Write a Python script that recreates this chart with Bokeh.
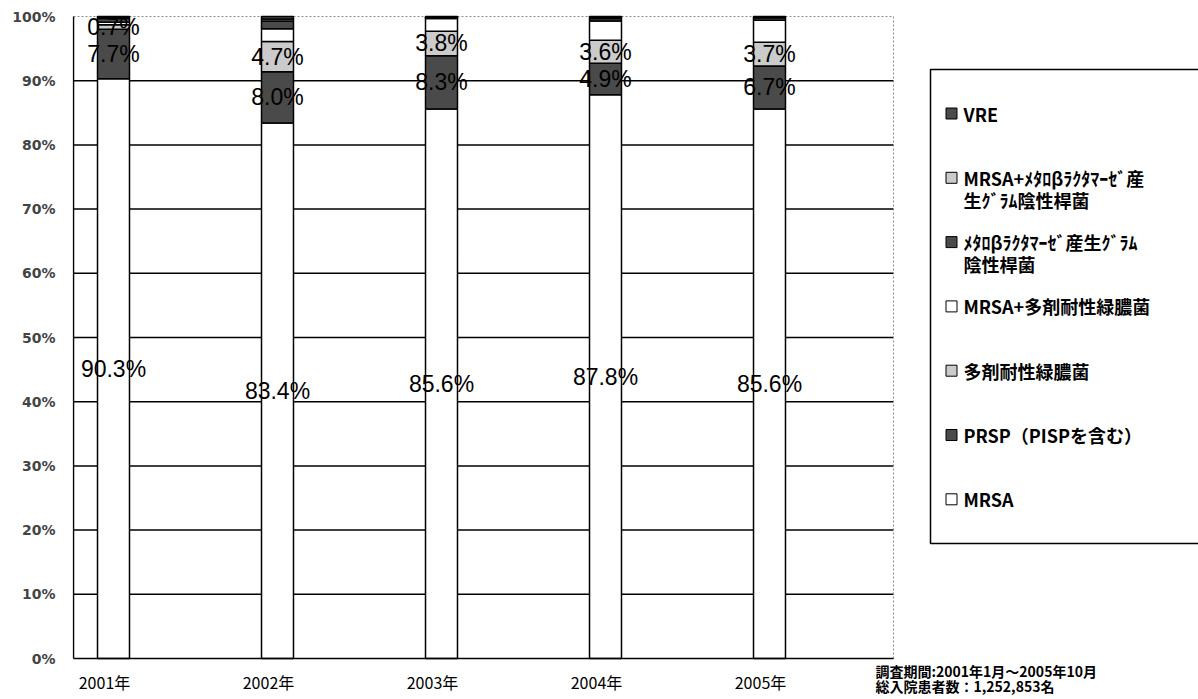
from bokeh.plotting import figure
from bokeh.models import ColumnDataSource, Range1d, FixedTicker
from bokeh.core.properties import value
from bokeh.embed import file_html
from bokeh.resources import INLINE

# ---- data ----
years = ["2001年", "2002年", "2003年", "2004年", "2005年"]
mrsa      = [90.3, 83.4, 85.6, 87.8, 85.6]
prsp      = [7.7, 8.0, 8.3, 4.9, 6.7]
mdrp      = [0.7, 4.7, 3.8, 3.6, 3.7]
mrsa_mdrp = [0.4, 2.0, 2.0, 3.0, 3.4]
mbl       = [0.6, 1.2, 0.2, 0.4, 0.4]
mrsa_mbl  = [0.1, 0.3, 0.0, 0.1, 0.1]
vre       = [0.2, 0.4, 0.1, 0.2, 0.1]

series_names = ["MRSA", "PRSP（PISPを含む）", "多剤耐性緑膿菌", "MRSA+多剤耐性緑膿菌",
                "ﾒﾀﾛβﾗｸﾀﾏｰｾﾞ産生ｸﾞﾗﾑ\n陰性桿菌", "MRSA+ﾒﾀﾛβﾗｸﾀﾏｰｾﾞ産\n生ｸﾞﾗﾑ陰性桿菌", "VRE"]
y_ticks = [0, 10, 20, 30, 40, 50, 60, 70, 80, 90, 100]
note_lines = ["調査期間:2001年1月～2005年10月", "総入院患者数：1,252,853名"]

series = [mrsa, prsp, mdrp, mrsa_mdrp, mbl, mrsa_mbl, vre]
DARK, LIGHT, WHITE = "#4a4a4a", "#cbcbcb", "#ffffff"
colors = [WHITE, DARK, LIGHT, WHITE, DARK, LIGHT, DARK]
keys = ["s%d" % i for i in range(len(series))]

# ---- layout geometry (page pixels) ----
W, H = 1198, 699
X0, DX = 113.0, 164.0      # pixel of first category centre, pixels per category
Y0, DY = 658.0, 6.42       # pixel of 0 %, pixels per percent
def dx(px): return (px - X0) / DX
def dy(py): return (Y0 - py) / DY
PL, PR = 73, 893           # plot-area left/right pixels

xs = list(range(len(years)))
data = {"x": xs}
for k, s in zip(keys, series):
    data[k] = s
src = ColumnDataSource(data)

p = figure(width=W, height=H, output_backend="svg", toolbar_location=None,
           x_range=Range1d(dx(72), dx(W)), y_range=Range1d(dy(H), dy(0)),
           x_axis_location=None, y_axis_location="left",
           min_border_left=72, min_border_right=0, min_border_top=0, min_border_bottom=0)
p.background_fill_color = "white"
p.border_fill_color = "white"
p.outline_line_color = None
p.xgrid.visible = False
p.ygrid.visible = False

xL, xR = dx(PL), dx(PR)
# horizontal gridlines (10 % .. 90 %)
g = y_ticks[1:-1]
p.segment(x0=[xL] * len(g), x1=[xR] * len(g), y0=g, y1=g, line_color="black", line_width=1.5)
# dotted top and right edges of the plot area
p.segment(x0=[xL, xR], x1=[xR, xR], y0=[y_ticks[-1], y_ticks[0]], y1=[y_ticks[-1], y_ticks[-1]],
          line_color="#8a8a8a", line_dash="2 2", line_width=1)

# stacked bars
p.vbar_stack(keys, x="x", width=0.195, source=src, fill_color=colors,
             line_color="black", line_width=1.5)

# axis lines
p.segment(x0=[xL, xL], x1=[xL, xR], y0=[y_ticks[0], y_ticks[0]], y1=[y_ticks[-1], y_ticks[0]],
          line_color="black", line_width=1.5)

# data labels (MRSA, PRSP, 多剤耐性緑膿菌)
lx, ly, lt = [], [], []
for i in range(len(years)):
    base = 0.0
    for s in series[:3]:
        v = s[i]
        lx.append(xs[i]); ly.append(base + v / 2.0); lt.append("%.1f%%" % v)
        base += v
lsrc = ColumnDataSource(dict(x=lx, y=ly, t=lt))
p.text(x="x", y="y", text="t", source=lsrc, text_font=value("Liberation Sans"),
       text_font_size="23px", text_align="center", text_baseline="middle", text_color="black")

# category labels
p.text(x=xs, y=[dy(681)] * len(xs), text=years, x_offset=-9, text_font=value("Noto Sans CJK JP"),
       text_font_size="16px", text_align="center", text_baseline="middle", text_color="black")

# y axis
p.yaxis.ticker = FixedTicker(ticks=y_ticks)
p.yaxis.major_label_overrides = {t: "%d%%" % t for t in y_ticks}
p.yaxis.major_label_text_font = "DejaVu Sans"
p.yaxis.major_label_text_font_style = "bold"
p.yaxis.major_label_text_font_size = "14px"
p.yaxis.major_label_standoff = 17
p.yaxis.major_tick_in = 0
p.yaxis.major_tick_out = 0
p.yaxis.minor_tick_line_color = None
p.yaxis.axis_line_color = None

# ---- legend (box runs off the right edge as in the original) ----
p.quad(left=[dx(930)], right=[dx(W + 40)], top=[dy(69)], bottom=[dy(543)],
       fill_color="white", line_color="black", line_width=1.5)
leg_names = series_names[::-1]
leg_colors = colors[::-1]
row_py = [113 + 64.3 * i for i in range(len(leg_names))]
p.rect(x=[dx(951)] * len(leg_names), y=[dy(v) for v in row_py], width=11, height=11,
       width_units="screen", height_units="screen", fill_color=leg_colors,
       line_color="black", line_width=1)
tx, ty, tt = [], [], []
for name, py in zip(leg_names, row_py):
    for j, part in enumerate(name.split("\n")):
        tx.append(dx(963)); ty.append(dy(py + 22 * j)); tt.append(part)
p.text(x=tx, y=ty, text=tt, text_font=value("Noto Sans CJK JP"), text_font_size="18px",
       text_font_style="bold", text_baseline="middle", text_align="left", text_color="black")

# ---- survey note ----
p.text(x=[dx(875)] * 2, y=[dy(670), dy(685)], text=note_lines, text_font=value("Noto Sans CJK JP"),
       text_font_size="14px", text_font_style="bold", text_baseline="middle",
       text_align="left", text_color="black")

open("out.html", "w").write(file_html(p, INLINE))
